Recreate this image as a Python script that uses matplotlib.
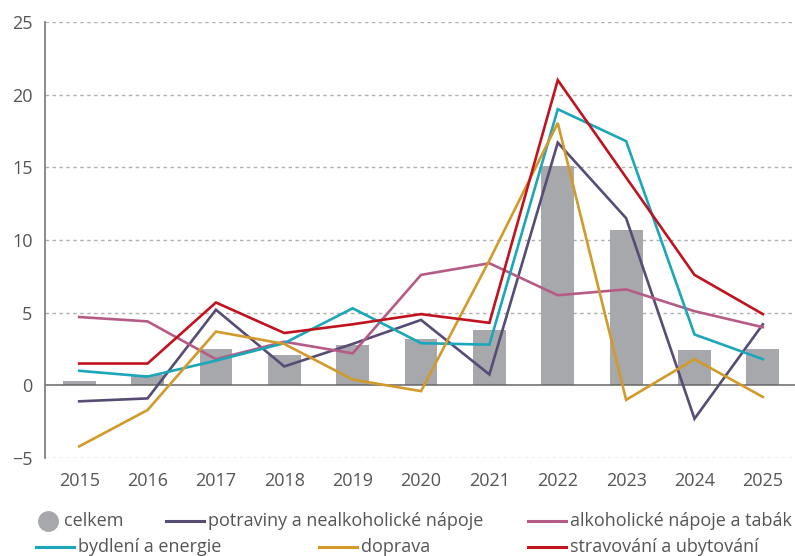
import matplotlib
matplotlib.use("Agg")
import matplotlib.pyplot as plt
from matplotlib.lines import Line2D
from matplotlib import font_manager

names = [f.name for f in font_manager.fontManager.ttflist]
FONT = "Liberation Sans Narrow" if "Liberation Sans Narrow" in names else "Open Sans"
plt.rcParams["font.family"] = [FONT, "DejaVu Sans"]

years = ["2015", "2016", "2017", "2018", "2019", "2020", "2021", "2022", "2023", "2024", "2025"]
celkem = [0.3, 0.7, 2.5, 2.1, 2.8, 3.2, 3.8, 15.1, 10.7, 2.4, 2.5]
potraviny = [-1.1, -0.9, 5.2, 1.3, 2.85, 4.5, 0.75, 16.7, 11.5, -2.3, 4.2]
alkohol = [4.7, 4.4, 1.8, 3.0, 2.2, 7.6, 8.4, 6.2, 6.6, 5.1, 4.0]
bydleni = [1.0, 0.6, 1.7, 2.9, 5.3, 2.9, 2.8, 19.0, 16.8, 3.5, 1.8]
doprava = [-4.2, -1.7, 3.7, 2.85, 0.4, -0.4, 8.6, 18.05, -1.0, 1.8, -0.8]
stravovani = [1.5, 1.5, 5.7, 3.6, 4.2, 4.9, 4.3, 21.0, 14.3, 7.6, 4.9]
yticks = [-5, 0, 5, 10, 15, 20, 25]

series = [
    ("potraviny a nealkoholické nápoje", potraviny, "#574c74"),
    ("alkoholické nápoje a tabák", alkohol, "#b65b86"),
    ("bydlení a energie", bydleni, "#1ba6b9"),
    ("doprava", doprava, "#d19a2b"),
    ("stravování a ubytování", stravovani, "#c1121f"),
]
bar_label = "celkem"
bar_color = "#a7a8ac"
text_color = "#555555"
FS = 13

fig = plt.figure(figsize=(7.95, 5.56), dpi=100)
ax = fig.add_axes([45 / 795, 1 - 458 / 556, 1 - 45 / 795, (458 - 22) / 556])

x = list(range(len(years)))
ax.bar(x, celkem, width=0.48, color=bar_color, zorder=2)
for label, vals, col in series:
    ax.plot(x, vals, color=col, lw=1.9, zorder=3, solid_joinstyle="miter")

ax.set_xlim(-0.5, 10.47)
ax.set_ylim(-5, 25)
ax.set_yticks(yticks)
ax.set_yticklabels([("\u2212" + str(-t)) if t < 0 else str(t) for t in yticks])
ax.set_xticks(x)
ax.set_xticklabels(years)
ax.tick_params(axis="both", length=0, labelsize=FS, colors=text_color)
ax.tick_params(axis="x", pad=10)
ax.tick_params(axis="y", pad=9)

for t in yticks:
    if t != 0:
        ax.axhline(t, color="#b0b0b0", lw=1, ls=(0, (2.5, 2.5)), zorder=1)
ax.axhline(0, color="#666666", lw=1.1, zorder=2.5)

for s in ["top", "right", "bottom"]:
    ax.spines[s].set_visible(False)
ax.spines["left"].set_color("#777777")
ax.spines["left"].set_linewidth(1.2)

# legend (manual flow layout)
W, H = 795, 556
def fx(px):
    return px / W
def fy(py):
    return 1 - py / H

row1, row2 = 521, 547
fig.add_artist(Line2D([fx(48)], [fy(row1)], marker="o", ms=14, color=bar_color, ls="none"))
fig.text(fx(64), fy(row1), bar_label, fontsize=FS, color=text_color, va="center")

entries = [
    (series[0], 166, row1),
    (series[1], 528, row1),
    (series[2], 36, row2),
    (series[3], 319, row2),
    (series[4], 528, row2),
]
for (label, vals, col), px, py in entries:
    fig.add_artist(Line2D([fx(px), fx(px + 38)], [fy(py), fy(py)], color=col, lw=2.2))
    fig.text(fx(px + 42), fy(py), label, fontsize=FS, color=text_color, va="center")

fig.savefig("out.png", dpi=100)
